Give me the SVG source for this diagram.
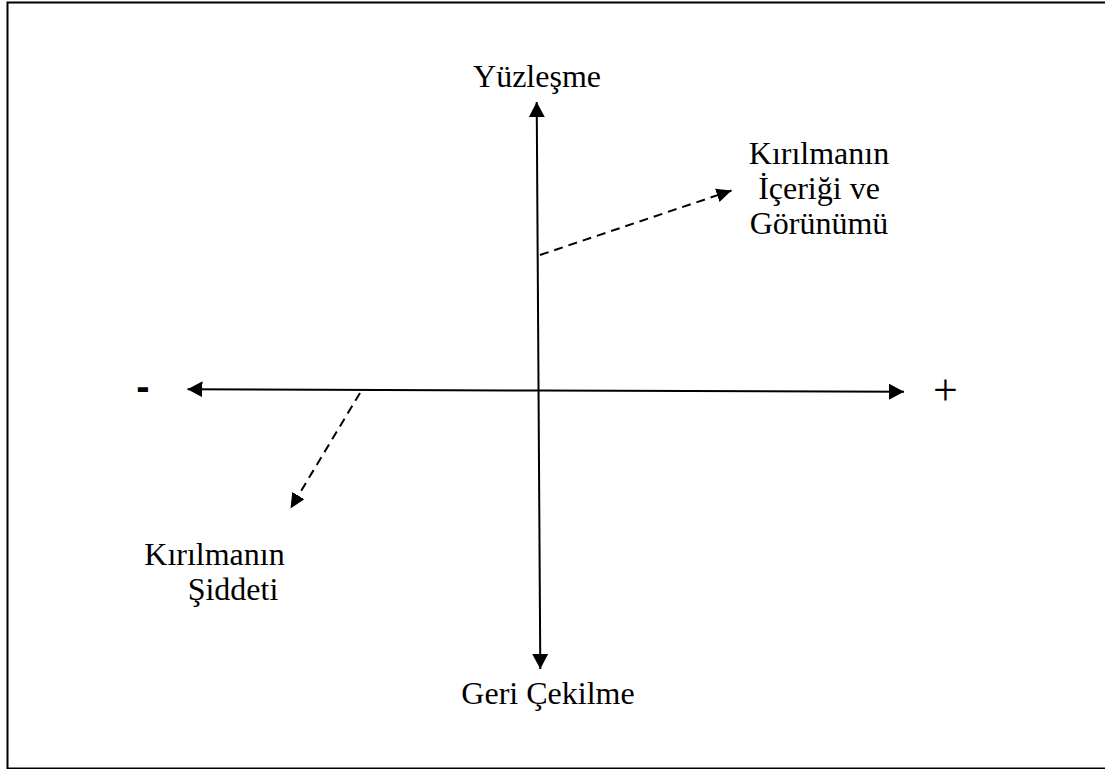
<svg xmlns="http://www.w3.org/2000/svg" width="1105" height="769" viewBox="0 0 1105 769">
<style>
.t{font-family:'Liberation Serif','Times New Roman',serif;font-size:32px;fill:#000}
.ax{stroke:#000;stroke-width:2;fill:none}
.da{stroke:#000;stroke-width:2;fill:none;stroke-dasharray:9 6}
</style>
<defs>
<marker id="ah" markerUnits="userSpaceOnUse" markerWidth="16" markerHeight="18" refX="15" refY="8" orient="auto">
<path d="M0,0 L15,8 L0,16 z" fill="#000"/>
</marker>
<marker id="ahd" markerUnits="userSpaceOnUse" markerWidth="16" markerHeight="16" refX="15" refY="7" orient="auto">
<path d="M0,0 L15,7 L0,14 z" fill="#000"/>
</marker>
</defs>
<rect x="7.5" y="2.5" width="1105" height="766" fill="#fff" stroke="#000" stroke-width="2"/>
<g id="connectors">
<line class="ax" x1="538.5" y1="385" x2="536.7" y2="102" marker-end="url(#ah)"/>
<line class="ax" x1="538.5" y1="385" x2="540.3" y2="669" marker-end="url(#ah)"/>
<line class="ax" x1="540" y1="390.5" x2="187.5" y2="389.3" marker-end="url(#ah)"/>
<line class="ax" x1="540" y1="390.5" x2="904" y2="391.7" marker-end="url(#ah)"/>
<line class="da" x1="540" y1="255" x2="731.5" y2="190.5" marker-end="url(#ahd)"/>
<line class="da" x1="360" y1="393" x2="290.5" y2="508.5" marker-end="url(#ahd)"/>
</g>
<g id="node-top"><text class="t" x="537" y="87" text-anchor="middle">Yüzleşme</text></g>
<g id="node-bottom"><text class="t" x="548" y="704" text-anchor="middle">Geri Çekilme</text></g>
<g id="node-minus"><text x="143" y="399.5" text-anchor="middle" font-family="Liberation Sans, Arial, sans-serif" font-size="40" font-weight="bold">-</text></g>
<g id="node-plus"><text x="945.5" y="404.5" text-anchor="middle" font-family="Liberation Serif, serif" font-size="44">+</text></g>
<g id="node-content"><text class="t" text-anchor="middle"><tspan x="819" y="164">Kırılmanın</tspan><tspan x="819" y="199">İçeriği ve</tspan><tspan x="819" y="234">Görünümü</tspan></text></g>
<g id="node-severity"><text class="t" text-anchor="middle"><tspan x="214.5" y="565">Kırılmanın</tspan><tspan x="233" y="600">Şiddeti</tspan></text></g>
</svg>
